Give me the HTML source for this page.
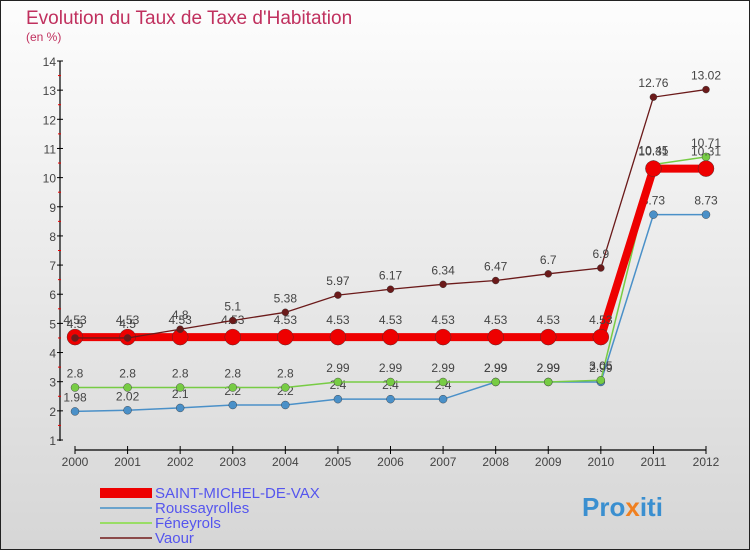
<!DOCTYPE html>
<html><head><meta charset="utf-8"><style>
body{margin:0}
#c{width:750px;height:550px;position:relative;font-family:"Liberation Sans",sans-serif}
</style></head><body>
<div id="c">
<svg id="s" width="750" height="550" xmlns="http://www.w3.org/2000/svg">
<defs><linearGradient id="bg" x1="0" y1="0" x2="0" y2="1"><stop offset="0" stop-color="#fdfdfd"/><stop offset="1" stop-color="#d6d6d6"/></linearGradient></defs>
<rect x="0.5" y="0.5" width="749" height="549" fill="url(#bg)" stroke="#222"/>
<text x="26" y="24" font-size="19" fill="#c0305e">Evolution du Taux de Taxe d'Habitation</text>
<text x="26" y="41" font-size="12" fill="#c0305e">(en %)</text>
<g id="axes"></g><g id="series"></g>
<g>
<rect x="100" y="488" width="52" height="10" fill="#e00"/>
<text x="155" y="498" font-size="15" fill="#5555ee">SAINT-MICHEL-DE-VAX</text>
<line x1="100" y1="508" x2="152" y2="508" stroke="#6aa3cc" stroke-width="2"/>
<text x="155" y="513" font-size="15" fill="#5555ee">Roussayrolles</text>
<line x1="100" y1="523" x2="152" y2="523" stroke="#99dd66" stroke-width="2"/>
<text x="155" y="528" font-size="15" fill="#5555ee">Féneyrols</text>
<line x1="100" y1="538" x2="152" y2="538" stroke="#8b4a4a" stroke-width="2"/>
<text x="155" y="543" font-size="15" fill="#5555ee">Vaour</text>
</g>
<text x="582" y="516" font-size="26" font-weight="bold" fill="#3a8fd0">Pro<tspan fill="#f08020">x</tspan>iti</text>
</svg>
</div>
<script>
const years=[2000,2001,2002,2003,2004,2005,2006,2007,2008,2009,2010,2011,2012];
const yTicks=[1,2,3,4,5,6,7,8,9,10,11,12,13,14];
const saintMichel=[4.53,4.53,4.53,4.53,4.53,4.53,4.53,4.53,4.53,4.53,4.53,10.31,10.31];
const roussayrolles=[1.98,2.02,2.1,2.2,2.2,2.4,2.4,2.4,2.99,2.99,2.99,8.73,8.73];
const feneyrols=[2.8,2.8,2.8,2.8,2.8,2.99,2.99,2.99,2.99,2.99,3.05,10.45,10.71];
const vaour=[4.5,4.5,4.8,5.1,5.38,5.97,6.17,6.34,6.47,6.7,6.9,12.76,13.02];
const NS="http://www.w3.org/2000/svg";
const x=i=>75+i*(706-75)/(years.length-1);
const y=v=>440-(v-1)*(440-61)/13;
function mk(t,a,p){const e=document.createElementNS(NS,t);for(const k in a)e.setAttribute(k,a[k]);p.appendChild(e);return e;}
const ax=document.getElementById('axes');
let e=mk('line',{x1:60,y1:61,x2:60,y2:441,stroke:'#000','stroke-width':1.2},ax);


e=mk('line',{x1:75,y1:450,x2:706,y2:450,stroke:'#000','stroke-width':1.2},ax);


yTicks.forEach(t=>{
 mk('line',{x1:57,y1:y(t),x2:63,y2:y(t),stroke:'#000'},ax);
 if(t<14)mk('line',{x1:58,y1:y(t+0.5),x2:61,y2:y(t+0.5),stroke:'#e00'},ax);
 const tx=mk('text',{x:56,y:y(t)+5,'font-size':12,'text-anchor':'end',fill:'#444'},ax);
 tx.textContent=t;
 
 
});
years.forEach((yr,i)=>{
 mk('line',{x1:x(i),y1:446,x2:x(i),y2:454,stroke:'#000'},ax);
 const tx=mk('text',{x:x(i),y:466,'font-size':12,'text-anchor':'middle',fill:'#444'},ax);
 tx.textContent=yr;
 
 
});
const sg=document.getElementById('series');
function draw(vals,name,color,w,r,lblOff){
 const g=mk('g',{},sg);
 
 
 mk('polyline',{points:vals.map((v,i)=>x(i)+','+y(v)).join(' '),fill:'none',stroke:color,'stroke-width':w},g);
 vals.forEach((v,i)=>{
  const c=mk('circle',{cx:x(i),cy:y(v),r:r,fill:color,stroke:'#333','stroke-width':0.4},g);
  
  
  const t=mk('text',{x:x(i),y:y(v)-lblOff,'font-size':12,'text-anchor':'middle',fill:'#444'},g);
  t.textContent=v;
  
  
 });
}
draw(roussayrolles,'roussayrolles','#4a90c8',1.5,4,10);
draw(feneyrols,'feneyrols','#77cc44',1.5,4,10);
draw(saintMichel,'saint-michel','#ee0000',8,8,13);
draw(vaour,'vaour','#6b1a1a',1.3,3.5,10);
</script>
</body></html>
